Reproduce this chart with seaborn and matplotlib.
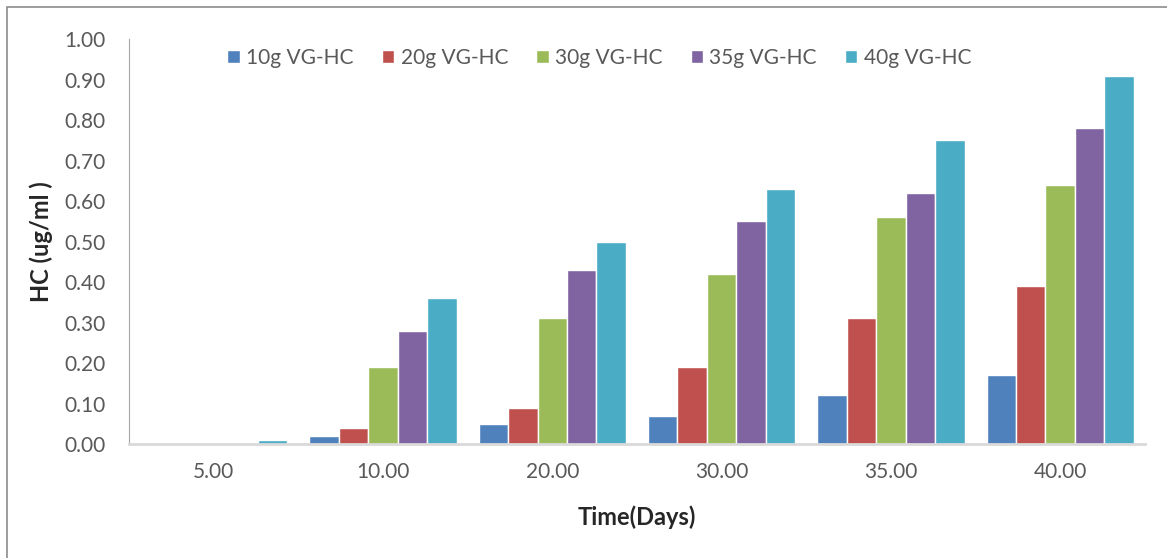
import pandas as pd
import matplotlib.pyplot as plt
import seaborn as sns
from matplotlib.patches import Rectangle

# Datos
dias = ['5.00', '10.00', '20.00', '30.00', '35.00', '40.00']
series = ['10g VG-HC', '20g VG-HC', '30g VG-HC', '35g VG-HC', '40g VG-HC']
hc_10g = [0.00, 0.02, 0.05, 0.07, 0.12, 0.17]
hc_20g = [0.00, 0.04, 0.09, 0.19, 0.31, 0.39]
hc_30g = [0.00, 0.19, 0.31, 0.42, 0.56, 0.64]
hc_35g = [0.00, 0.28, 0.43, 0.55, 0.62, 0.78]
hc_40g = [0.01, 0.36, 0.50, 0.63, 0.75, 0.91]
colores = ['#4F81BD', '#C0504D', '#9BBB59', '#8064A2', '#4BACC6']

# Tabla larga para seaborn
valores = [hc_10g, hc_20g, hc_30g, hc_35g, hc_40g]
filas = []
for s, v in zip(series, valores):
    for d, x in zip(dias, v):
        filas.append({'Dias': d, 'Serie': s, 'HC': x})
df = pd.DataFrame(filas)

sns.set_style('white')
plt.rcParams['font.family'] = ['Lato', 'DejaVu Sans']

fig = plt.figure(figsize=(11.67, 5.58), dpi=100)
ax = fig.add_axes([0.1105, 0.2043, 0.8705, 0.7257])

sns.barplot(data=df, x='Dias', y='HC', hue='Serie', order=dias, hue_order=series,
            palette=colores, width=0.87, saturation=1, ax=ax, errorbar=None)

ax.set_ylim(0, 1.0)
ax.set_yticks([i / 10 for i in range(11)])
ax.set_yticklabels([f'{i / 10:.2f}' for i in range(11)])
ax.tick_params(axis='both', labelsize=15, labelcolor='#595959', length=0)
ax.tick_params(axis='x', pad=13)
ax.tick_params(axis='y', pad=17)

for lado in ['top', 'right']:
    ax.spines[lado].set_visible(False)
ax.spines['left'].set_color('#A6A6A6')
ax.spines['bottom'].set_color('#D9D9D9')
ax.spines['bottom'].set_linewidth(2)

ax.set_xlabel('Time(Days)', fontsize=17, fontweight='bold', labelpad=17)
ax.set_ylabel('HC (ug/ml )', fontsize=17, fontweight='bold', labelpad=8)

ax.legend(loc='upper center', bbox_to_anchor=(0.463, 1.025), ncol=5, frameon=False,
          fontsize=15, handlelength=0.6, handleheight=0.6, handletextpad=0.3,
          columnspacing=1.35, labelcolor='#595959')

# Borde exterior tipo Excel
fig.patches.append(Rectangle((0.006, -0.1), 1.1, 1.087, transform=fig.transFigure,
                             fill=False, edgecolor='#8C8C8C', linewidth=1.2))

fig.savefig('out.png', dpi=100)
